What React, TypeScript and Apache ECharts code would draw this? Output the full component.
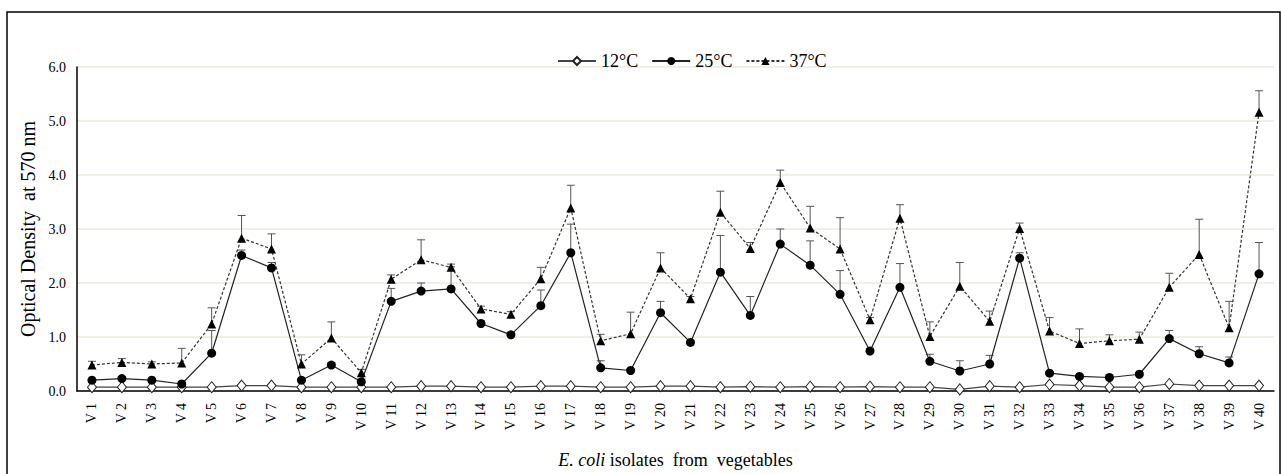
import React, { useEffect, useRef } from "react";
import * as echarts from "echarts";

const categories = [
  "V 1", "V 2", "V 3", "V 4", "V 5", "V 6", "V 7", "V 8", "V 9", "V 10",
  "V 11", "V 12", "V 13", "V 14", "V 15", "V 16", "V 17", "V 18", "V 19", "V 20",
  "V 21", "V 22", "V 23", "V 24", "V 25", "V 26", "V 27", "V 28", "V 29", "V 30",
  "V 31", "V 32", "V 33", "V 34", "V 35", "V 36", "V 37", "V 38", "V 39", "V 40",
];

const od12 = [
  0.07, 0.07, 0.07, 0.07, 0.07, 0.1, 0.1, 0.07, 0.07, 0.07,
  0.07, 0.09, 0.09, 0.07, 0.07, 0.09, 0.09, 0.07, 0.07, 0.09,
  0.09, 0.07, 0.08, 0.07, 0.08, 0.07, 0.08, 0.07, 0.07, 0.03,
  0.09, 0.07, 0.12, 0.1, 0.07, 0.07, 0.13, 0.1, 0.1, 0.1,
];

const od25 = [
  0.2, 0.23, 0.2, 0.13, 0.7, 2.51, 2.28, 0.2, 0.48, 0.17,
  1.66, 1.85, 1.89, 1.25, 1.04, 1.58, 2.56, 0.43, 0.38, 1.45,
  0.9, 2.2, 1.4, 2.72, 2.33, 1.79, 0.74, 1.92, 0.55, 0.37,
  0.5, 2.46, 0.33, 0.27, 0.25, 0.31, 0.97, 0.69, 0.52, 2.17,
];

const sd25 = [
  0.03, 0.03, 0.03, 0.03, 0.42, 0.1, 0.1, 0.03, 0.05, 0.05,
  0.24, 0.15, 0.41, 0.05, 0.05, 0.29, 0.53, 0.13, 0.03, 0.21,
  0.03, 0.68, 0.35, 0.28, 0.45, 0.44, 0.05, 0.44, 0.13, 0.19,
  0.16, 0.1, 0.03, 0.03, 0.05, 0.03, 0.15, 0.13, 0.11, 0.58,
];

const od37 = [
  0.48, 0.53, 0.5, 0.52, 1.24, 2.83, 2.63, 0.5, 0.98, 0.34,
  2.07, 2.43, 2.29, 1.52, 1.42, 2.08, 3.39, 0.93, 1.06, 2.28,
  1.71, 3.31, 2.64, 3.86, 3.02, 2.63, 1.32, 3.2, 1.01, 1.94,
  1.29, 3.01, 1.11, 0.88, 0.93, 0.96, 1.92, 2.53, 1.17, 5.16,
];

const sd37 = [
  0.07, 0.07, 0.04, 0.27, 0.3, 0.42, 0.28, 0.17, 0.3, 0.06,
  0.08, 0.37, 0.06, 0.05, 0.05, 0.21, 0.42, 0.12, 0.4, 0.28,
  0.04, 0.39, 0.11, 0.23, 0.4, 0.58, 0.04, 0.25, 0.27, 0.44,
  0.19, 0.1, 0.25, 0.27, 0.11, 0.13, 0.26, 0.65, 0.49, 0.4,
];

const yTicks = [0, 1, 2, 3, 4, 5, 6];

const FONT = "'Liberation Serif', 'Times New Roman', serif";

function errorSeries(name: string, means: number[], sds: number[]) {
  return {
    type: "custom",
    name,
    silent: true,
    z: 1,
    encode: { x: 0, y: [1, 2] },
    data: means.map((m, i) => [i, m, m + sds[i]]),
    renderItem: (_params: any, api: any) => {
      const x = api.value(0);
      const p0 = api.coord([x, api.value(1)]);
      const p1 = api.coord([x, api.value(2)]);
      const hw = 4;
      return {
        type: "group",
        children: [
          {
            type: "line",
            shape: { x1: p0[0], y1: p0[1], x2: p1[0], y2: p1[1] },
            style: { stroke: "#555", lineWidth: 1 },
          },
          {
            type: "line",
            shape: { x1: p1[0] - hw, y1: p1[1], x2: p1[0] + hw, y2: p1[1] },
            style: { stroke: "#555", lineWidth: 1 },
          },
        ],
      };
    },
  };
}

export default function App() {
  const ref = useRef<HTMLDivElement>(null);

  useEffect(() => {
    const chart = echarts.init(ref.current!, null, { renderer: "svg" });
    chart.setOption({
      animation: false,
      backgroundColor: "#fff",
      textStyle: { fontFamily: FONT },
      graphic: [
        {
          type: "rect",
          shape: { x: 7, y: 12, width: 1273, height: 480 },
          style: { fill: "none", stroke: "#000", lineWidth: 1.5 },
          silent: true,
          z: -10,
        },
      ],
      legend: {
        data: ["12°C", "25°C", "37°C"],
        left: 552,
        top: 47,
        itemWidth: 38,
        itemHeight: 10,
        itemGap: 13,
        textStyle: { fontFamily: FONT, fontSize: 18, color: "#000" },
      },
      grid: { left: 77, right: 7, top: 67, bottom: 81, containLabel: false },
      xAxis: {
        type: "category",
        data: categories,
        boundaryGap: true,
        axisLine: { lineStyle: { color: "#000", width: 1.5 } },
        axisTick: { show: false },
        axisLabel: {
          rotate: 90,
          margin: 12,
          interval: 0,
          fontFamily: FONT,
          fontSize: 14,
          color: "#000",
        },
        name: "{i|E. coli} isolates  from  vegetables",
        nameLocation: "middle",
        nameGap: 60,
        nameTextStyle: {
          fontFamily: FONT,
          fontSize: 18,
          color: "#000",
          rich: {
            i: { fontFamily: FONT, fontSize: 18, fontStyle: "italic", color: "#000" },
          },
        },
      },
      yAxis: {
        type: "value",
        min: yTicks[0],
        max: yTicks[yTicks.length - 1],
        interval: 1,
        axisLine: { show: true, lineStyle: { color: "#000", width: 1.5 } },
        axisTick: { show: false },
        axisLabel: {
          margin: 11,
          fontFamily: FONT,
          fontSize: 14,
          color: "#000",
          formatter: (v: number) => v.toFixed(1),
        },
        splitLine: { lineStyle: { color: "#eeeadf", width: 1.5 } },
        name: "Optical Density  at 570 nm",
        nameLocation: "middle",
        nameGap: 36,
        nameTextStyle: { fontFamily: FONT, fontSize: 20, color: "#000" },
      },
      series: [
        errorSeries("err37", od37, sd37),
        errorSeries("err25", od25, sd25),
        {
          name: "12°C",
          type: "line",
          data: od12,
          z: 3,
          symbol: "diamond",
          symbolSize: [9, 11],
          lineStyle: { color: "#444", width: 1.2 },
          itemStyle: { color: "#fff", borderColor: "#222", borderWidth: 1 },
        },
        {
          name: "25°C",
          type: "line",
          data: od25,
          z: 4,
          symbol: "circle",
          symbolSize: 9,
          lineStyle: { color: "#222", width: 1.2 },
          itemStyle: { color: "#000", borderColor: "#000", borderWidth: 0 },
        },
        {
          name: "37°C",
          type: "line",
          data: od37,
          z: 5,
          symbol: "triangle",
          symbolSize: 9,
          lineStyle: { color: "#333", width: 1.2, type: [3, 2] },
          itemStyle: { color: "#000", borderColor: "#000", borderWidth: 0 },
        },
      ],
    });
    return () => chart.dispose();
  }, []);

  return (
    <div
      ref={ref}
      style={{ position: "fixed", left: 0, top: 0, width: 1281, height: 474 }}
    />
  );
}
